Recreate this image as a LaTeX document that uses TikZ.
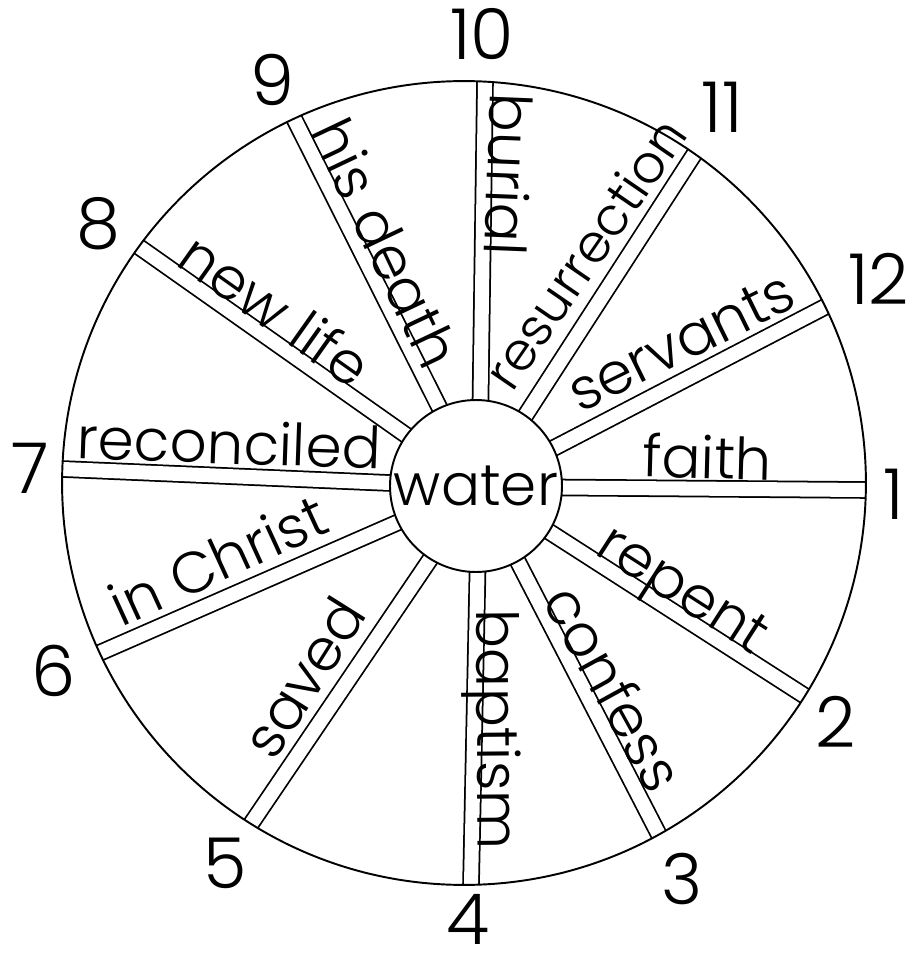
\documentclass[tikz,border=0pt]{standalone}
\usepackage{fontspec}
\setmainfont{Poppins Light}
\usetikzlibrary{backgrounds}

\begin{document}
\begin{tikzpicture}[
    x=0.02cm, y=0.02cm,
    every node/.style={font=\fontsize{33}{36}\selectfont},
    hub/.style={draw,circle,line width=1.1pt,minimum size=3.44cm,
                inner sep=0pt,outer sep=0pt},
    rimline/.style={draw,circle,line width=1.1pt,minimum size=16.08cm,
                    inner sep=0pt,outer sep=0pt},
    spoke/.style={double,double distance=8pt,line width=1pt},
    word/.style={inner sep=0pt,anchor=base},
    numlbl/.style={font=\fontsize{40}{44}\selectfont,inner sep=0pt},
  ]
  \useasboundingbox (-464,-478) rectangle (448,483);

  \node[rimline] (rim) at (0,0) {};
  \node[hub] (water) at (12,-3) {water};

  % spoke angle / number / word / word radius / word turn / number radius
  \foreach \a/\n/\t/\rt/\rr/\nr in {
      -1.5/1/faith/243/-1.5/430,
      -32.7/2/repent/242/-32.7/442,
      -61.1/3/confess/252/-61.1/452,
      -89.5/4/baptism/247/-89.5/436,
      -122.2/5/saved/250/57.8/449,
      -155.4/6/in Christ/256/24.6/451,
      178/7/reconciled/236/-2/434,
      144.7/8/new life/254/-35.3/448,
      115.4/9/his death/250/-64.6/446,
      87.7/10/burial/310/-92.3/449,
      55.5/11/{\fontsize{30}{33}\selectfont resurrection}/258/55.5/456,
      26.2/12/servants/257/26.2/462}{
    \begin{scope}[on background layer]
      \draw[spoke] (water.\a) -- (rim.\a);
    \end{scope}
    \path (\a:\rt) ++({\rr+90}:11) node[word,rotate=\rr] (w\n) {\t};
    \node[numlbl] (n\n) at (\a:\nr) {\n};
  }
\end{tikzpicture}
\end{document}
